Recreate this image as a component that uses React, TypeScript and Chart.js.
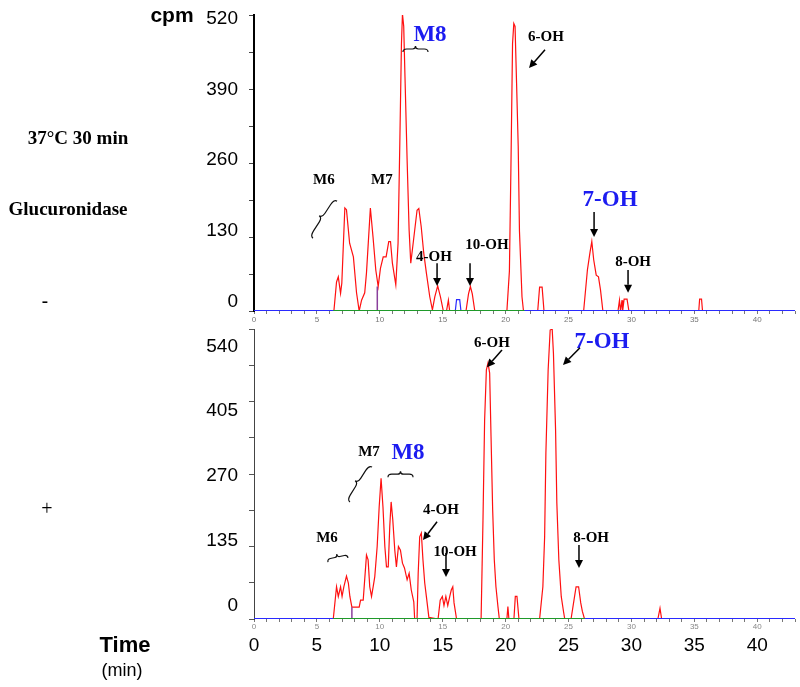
import React, { useEffect, useRef } from 'react';
import { Chart, registerables } from 'chart.js';
Chart.register(...registerables);

// ---------- data ----------
const X_MIN = 0;
const X_MAX = 43;
const xTickLabels = [0, 5, 10, 15, 20, 25, 30, 35, 40];
const topYTicks = [0, 130, 260, 390, 520];
const bottomYTicks = [0, 135, 270, 405, 540];

const topTime = [0, 6.35, 6.56, 6.7, 6.88, 6.98, 7.22, 7.35, 7.6, 7.9,
  8.15, 8.36, 8.55, 8.8, 8.94, 9.25, 9.46, 9.68, 9.87, 10.05,
  10.27, 10.5, 10.71, 10.85, 11.0, 11.27, 11.45, 11.59, 11.72, 11.8,
  11.9, 12.0, 12.17, 12.33, 12.46, 12.65, 12.96, 13.1, 13.29, 13.49,
  13.7, 13.97, 14.18, 14.37, 14.6, 14.82, 15.05, 15.3, 15.45, 15.55,
  16.85, 17.05, 17.2, 17.35, 17.55, 20.1, 20.3, 20.42, 20.55, 20.65,
  20.75, 20.87, 21.0, 21.1, 21.3, 21.42, 22.55, 22.7, 22.9, 23.05,
  26.2, 26.5, 26.7, 26.85, 27.0, 27.2, 27.38, 27.54, 27.73, 28.93,
  29.05, 29.13, 29.25, 29.3, 29.42, 29.65, 29.8, 35.35, 35.42, 35.57,
  35.65, 43];
const topCpm = [0, 0, 51, 60, 31, 49, 181, 178, 119, 95,
  32, 0, 19, 32, 67, 181, 130, 72, 43, 75,
  95, 95, 122, 122, 84, 46, 119, 295, 470, 522,
  500, 412, 265, 142, 84, 119, 177, 180, 148, 102,
  67, 25, 2, 25, 44, 25, 0, 0, 19, 0,
  0, 30, 43, 30, 0, 0, 70, 250, 470, 505,
  500, 400, 290, 140, 25, 0, 0, 42, 42, 0,
  0, 72, 102, 122, 90, 63, 60, 37, 0, 0,
  19, 0, 19, 0, 21, 21, 0, 0, 21, 21,
  0, 0];

const bottomTime = [0, 6.3, 6.56, 6.7, 6.88, 7.0, 7.14, 7.35, 7.5, 7.62,
  7.78, 8.36, 8.47, 8.68, 8.94, 9.07, 9.2, 9.34, 9.47, 9.6,
  9.79, 9.95, 10.1, 10.25, 10.4, 10.53, 10.67, 10.79, 10.9, 11.03,
  11.19, 11.32, 11.48, 11.64, 11.8, 11.96, 12.17, 12.33, 12.5, 12.7,
  12.77, 12.96, 13.05, 13.17, 13.3, 13.43, 13.57, 13.7, 13.9, 14.63,
  14.8, 14.97, 15.1, 15.25, 15.4, 15.56, 15.68, 15.8, 15.9, 16.1,
  18.05, 18.2, 18.33, 18.47, 18.6, 18.73, 18.84, 18.97, 19.1, 19.23,
  19.39, 19.5, 20.1, 20.18, 20.26, 20.66, 20.77, 20.9, 21.06, 22.7,
  22.96, 23.1, 23.2, 23.38, 23.54, 23.7, 23.8, 23.97, 24.07, 24.23,
  24.42, 24.6, 24.7, 25.2, 25.48, 25.6, 25.8, 25.97, 26.1, 26.27,
  32.1, 32.27, 32.4, 43];
const bottomCpm = [0, 0, 60, 42, 60, 42, 60, 80, 67, 42,
  22, 22, 35, 35, 119, 110, 60, 42, 60, 79,
  135, 209, 262, 209, 135, 97, 97, 172, 218, 185,
  128, 97, 135, 128, 104, 95, 73, 85, 54, 32,
  0, 0, 85, 153, 160, 110, 67, 42, 3, 0,
  35, 42, 25, 42, 25, 42, 54, 60, 30, 0,
  0, 184, 370, 464, 477, 458, 340, 203, 110, 60,
  23, 0, 0, 23, 0, 0, 42, 42, 0, 0,
  60, 153, 309, 464, 538, 540, 495, 352, 216, 110,
  42, 14, 0, 0, 42, 60, 60, 30, 14, 0,
  0, 20, 0, 0];

const topBlueTime = [16.0, 16.1, 16.35, 16.45];
const topBlueCpm = [0, 20, 20, 0];
const topGreenRange = [6.3, 21.5];
const bottomGreenRange = [6.3, 26.3];
const topMarkerTime = 9.8;
const topMarkerCpm = 43;
const bottomMarkerTime = 7.78;
const bottomMarkerCpm = 22;

// ---------- annotations (in data coordinates) ----------
type Ann =
  | { kind: 'text'; text: string; t: number; v: number; blue?: boolean }
  | { kind: 'arrow'; t1: number; v1: number; t2: number; v2: number }
  | { kind: 'brace'; t1: number; v1: number; t2: number; v2: number; w: number };

const topAnnotations: Ann[] = [
  { kind: 'text', text: 'M6', t: 5.56, v: 230 },
  { kind: 'brace', t1: 6.6, v1: 193, t2: 4.69, v2: 128, w: 7 },
  { kind: 'text', text: 'M7', t: 10.17, v: 230 },
  { kind: 'text', text: 'M8', t: 13.99, v: 485, blue: true },
  { kind: 'brace', t1: 11.84, v1: 455, t2: 13.83, v2: 455, w: -6 },
  { kind: 'text', text: '6-OH', t: 23.21, v: 481 },
  { kind: 'arrow', t1: 23.13, v1: 459, t2: 21.86, v2: 427 },
  { kind: 'text', text: '7-OH', t: 28.3, v: 195, blue: true },
  { kind: 'arrow', t1: 27.03, v1: 174, t2: 27.03, v2: 130 },
  { kind: 'text', text: '4-OH', t: 14.31, v: 95 },
  { kind: 'arrow', t1: 14.55, v1: 84, t2: 14.55, v2: 44 },
  { kind: 'text', text: '10-OH', t: 18.52, v: 116 },
  { kind: 'arrow', t1: 17.17, v1: 84, t2: 17.17, v2: 44 },
  { kind: 'text', text: '8-OH', t: 30.13, v: 86 },
  { kind: 'arrow', t1: 29.73, v1: 72, t2: 29.73, v2: 32 },
];

const bottomAnnotations: Ann[] = [
  { kind: 'text', text: 'M6', t: 5.8, v: 151 },
  { kind: 'brace', t1: 5.88, v1: 106, t2: 7.47, v2: 114, w: -6 },
  { kind: 'text', text: 'M7', t: 9.14, v: 311 },
  { kind: 'brace', t1: 9.38, v1: 283, t2: 7.63, v2: 218, w: 7 },
  { kind: 'text', text: 'M8', t: 12.24, v: 309, blue: true },
  { kind: 'brace', t1: 10.65, v1: 264, t2: 12.64, v2: 264, w: -6 },
  { kind: 'text', text: '4-OH', t: 14.86, v: 203 },
  { kind: 'arrow', t1: 14.55, v1: 181, t2: 13.43, v2: 147 },
  { kind: 'text', text: '10-OH', t: 15.98, v: 125 },
  { kind: 'arrow', t1: 15.26, v1: 123, t2: 15.26, v2: 78 },
  { kind: 'text', text: '6-OH', t: 18.92, v: 514 },
  { kind: 'arrow', t1: 19.71, v1: 501, t2: 18.52, v2: 469 },
  { kind: 'text', text: '7-OH', t: 27.66, v: 516, blue: true },
  { kind: 'arrow', t1: 25.91, v1: 505, t2: 24.56, v2: 473 },
  { kind: 'text', text: '8-OH', t: 26.79, v: 151 },
  { kind: 'arrow', t1: 25.83, v1: 138, t2: 25.83, v2: 95 },
];

const RED = '#ff1010';
const BLUE_LINE = '#2a2aff';
const GREEN_LINE = '#1f9a2a';
const PURPLE = '#8a3f9c';
const LABEL_BLUE = '#1c1cf0';
const SERIF = '"Liberation Serif", "Times New Roman", serif';
const SANS = '"Liberation Sans", Arial, sans-serif';

const zip = (xs: number[], ys: number[]) => xs.map((x, i) => ({ x, y: ys[i] }));

function annotationPlugin(list: Ann[]) {
  return {
    id: 'annot',
    afterDraw(chart: any) {
      const ctx = chart.ctx as CanvasRenderingContext2D;
      const xs = chart.scales.x;
      const ys = chart.scales.y;
      const px = (t: number) => xs.getPixelForValue(t);
      const py = (v: number) => ys.getPixelForValue(v);
      ctx.save();
      for (const a of list) {
        if (a.kind === 'text') {
          ctx.font = a.blue ? `bold 23px ${SERIF}` : `bold 15px ${SERIF}`;
          ctx.fillStyle = a.blue ? LABEL_BLUE : '#000';
          ctx.textAlign = 'center';
          ctx.textBaseline = 'middle';
          ctx.fillText(a.text, px(a.t), py(a.v));
        } else if (a.kind === 'arrow') {
          const x1 = px(a.t1), y1 = py(a.v1), x2 = px(a.t2), y2 = py(a.v2);
          const ang = Math.atan2(y2 - y1, x2 - x1);
          const hl = 8, hw = 4;
          const bx = x2 - Math.cos(ang) * hl, by = y2 - Math.sin(ang) * hl;
          ctx.strokeStyle = '#000';
          ctx.lineWidth = 1.5;
          ctx.beginPath();
          ctx.moveTo(x1, y1);
          ctx.lineTo(bx, by);
          ctx.stroke();
          ctx.fillStyle = '#000';
          ctx.beginPath();
          ctx.moveTo(x2, y2);
          ctx.lineTo(bx + Math.sin(ang) * hw, by - Math.cos(ang) * hw);
          ctx.lineTo(bx - Math.sin(ang) * hw, by + Math.cos(ang) * hw);
          ctx.closePath();
          ctx.fill();
        } else {
          const x1 = px(a.t1), y1 = py(a.v1), x2 = px(a.t2), y2 = py(a.v2);
          const dx = x2 - x1, dy = y2 - y1;
          const len = Math.hypot(dx, dy);
          const ux = dx / len, uy = dy / len;
          const nx = -uy, ny = ux;
          const w = a.w;
          const P = (s: number, n: number): [number, number] => [x1 + ux * s + nx * n, y1 + uy * s + ny * n];
          ctx.strokeStyle = '#111';
          ctx.lineWidth = 1.2;
          ctx.beginPath();
          ctx.moveTo(...P(0, 0));
          ctx.quadraticCurveTo(...P(0, w * 0.5), ...P(len * 0.15, w * 0.5));
          ctx.lineTo(...P(len * 0.38, w * 0.5));
          ctx.quadraticCurveTo(...P(len * 0.5, w * 0.5), ...P(len * 0.5, w));
          ctx.quadraticCurveTo(...P(len * 0.5, w * 0.5), ...P(len * 0.62, w * 0.5));
          ctx.lineTo(...P(len * 0.85, w * 0.5));
          ctx.quadraticCurveTo(...P(len, w * 0.5), ...P(len, 0));
          ctx.stroke();
        }
      }
      ctx.restore();
    },
  };
}

const xCallback = (v: any) => (xTickLabels.includes(Number(v)) ? String(v) : '');

function baseDatasets(time: number[], cpm: number[], green: number[], mT: number, mV: number) {
  return [
    { label: 'green', data: [{ x: green[0], y: 0 }, { x: green[1], y: 0 }], borderColor: GREEN_LINE, borderWidth: 2, order: 0, yAxisID: 'y', xAxisID: 'x' },
    { label: 'baseline', data: [{ x: X_MIN, y: 0 }, { x: X_MAX, y: 0 }], borderColor: BLUE_LINE, borderWidth: 2, order: 1, yAxisID: 'y', xAxisID: 'x' },
    { label: 'marker', data: [{ x: mT, y: 0 }, { x: mT, y: mV }], borderColor: PURPLE, borderWidth: 1.5, order: 2, yAxisID: 'y', xAxisID: 'x' },
    { label: 'cpm', data: zip(time, cpm), borderColor: RED, borderWidth: 1.2, order: 3, yAxisID: 'y', xAxisID: 'x' },
  ];
}

function makeTopConfig(): any {
  const datasets: any[] = baseDatasets(topTime, topCpm, topGreenRange, topMarkerTime, topMarkerCpm);
  datasets.push({ label: 'blue', data: zip(topBlueTime, topBlueCpm), borderColor: BLUE_LINE, borderWidth: 1.2, order: 2, yAxisID: 'y', xAxisID: 'x' });
  return {
    type: 'line',
    data: { datasets },
    options: {
      responsive: false,
      animation: false,
      events: [],
      layout: { padding: { left: 0, right: 5, top: 15, bottom: 687 - 311 - 14 } },
      plugins: { legend: { display: false }, tooltip: { enabled: false } },
      elements: { point: { radius: 0 }, line: { tension: 0 } },
      scales: {
        x: {
          type: 'linear', axis: 'x', position: 'bottom', min: X_MIN, max: X_MAX, weight: 0,
          afterFit: (s: any) => { s.height = 14; },
          border: { display: false },
          grid: { display: true, drawOnChartArea: false, drawTicks: true, tickLength: 3, color: '#777' },
          ticks: { stepSize: 1, autoSkip: false, maxRotation: 0, padding: 1, color: '#777', font: { size: 8, family: SANS }, callback: xCallback },
        },
        y: {
          type: 'linear', axis: 'y', position: 'left', min: 0, max: 520, weight: 0,
          afterFit: (s: any) => { s.width = 16; },
          border: { display: true, color: '#000', width: 2 },
          grid: { display: true, drawOnChartArea: false, drawTicks: true, tickLength: 5, color: '#444' },
          ticks: { display: false, stepSize: 65 },
        },
        yLab: {
          type: 'linear', axis: 'y', position: 'left', min: -16.5, max: 526.2, weight: 10,
          afterFit: (s: any) => { s.width = 238; },
          afterBuildTicks: (s: any) => { s.ticks = topYTicks.map((v) => ({ value: v })); },
          border: { display: false },
          grid: { display: false, drawTicks: false },
          ticks: { padding: 0, color: '#000', font: { size: 19, family: SANS } },
        },
      },
    },
    plugins: [annotationPlugin(topAnnotations)],
  };
}

function makeBottomConfig(): any {
  const datasets: any[] = baseDatasets(bottomTime, bottomCpm, bottomGreenRange, bottomMarkerTime, bottomMarkerCpm);
  return {
    type: 'line',
    data: { datasets },
    options: {
      responsive: false,
      animation: false,
      events: [],
      layout: { padding: { left: 0, right: 5, top: 329, bottom: 0 } },
      plugins: { legend: { display: false }, tooltip: { enabled: false } },
      elements: { point: { radius: 0 }, line: { tension: 0 } },
      scales: {
        x: {
          type: 'linear', axis: 'x', position: 'bottom', min: X_MIN, max: X_MAX, weight: 0,
          afterFit: (s: any) => { s.height = 14; },
          border: { display: false },
          grid: { display: true, drawOnChartArea: false, drawTicks: true, tickLength: 3, color: '#777' },
          ticks: { stepSize: 1, autoSkip: false, maxRotation: 0, padding: 0, color: '#888', font: { size: 8, family: SANS }, callback: xCallback },
        },
        xBig: {
          type: 'linear', axis: 'x', position: 'bottom', min: X_MIN, max: X_MAX, weight: 10,
          afterFit: (s: any) => { s.height = 54; },
          border: { display: false },
          grid: { display: false, drawTicks: false },
          ticks: { stepSize: 5, autoSkip: false, maxRotation: 0, padding: 1, color: '#000', font: { size: 19, family: SANS }, callback: xCallback },
        },
        y: {
          type: 'linear', axis: 'y', position: 'left', min: 0, max: 540, weight: 0,
          afterFit: (s: any) => { s.width = 16; },
          border: { display: true, color: '#444', width: 1 },
          grid: { display: true, drawOnChartArea: false, drawTicks: true, tickLength: 5, color: '#555' },
          ticks: { display: false, stepSize: 67.5 },
        },
        yLab: {
          type: 'linear', axis: 'y', position: 'left', min: -28.4, max: 576.6, weight: 10,
          afterFit: (s: any) => { s.width = 238; },
          afterBuildTicks: (s: any) => { s.ticks = bottomYTicks.map((v) => ({ value: v })); },
          border: { display: false },
          grid: { display: false, drawTicks: false },
          ticks: { padding: 0, color: '#000', font: { size: 19, family: SANS } },
        },
      },
    },
    plugins: [annotationPlugin(bottomAnnotations)],
  };
}

const labelStyle = (x: number, y: number, extra: React.CSSProperties): React.CSSProperties => ({
  position: 'absolute', left: x, top: y, transform: 'translate(-50%, -50%)', whiteSpace: 'nowrap', lineHeight: 1, color: '#000', ...extra,
});

export default function App() {
  const topRef = useRef<HTMLCanvasElement | null>(null);
  const bottomRef = useRef<HTMLCanvasElement | null>(null);

  useEffect(() => {
    const c1 = new Chart(topRef.current as HTMLCanvasElement, makeTopConfig());
    const c2 = new Chart(bottomRef.current as HTMLCanvasElement, makeBottomConfig());
    return () => { c1.destroy(); c2.destroy(); };
  }, []);

  const canvasStyle: React.CSSProperties = { position: 'absolute', left: 0, top: 0, width: 800, height: 687 };

  return (
    <div style={{ position: 'absolute', left: 0, top: 0, width: 800, height: 687, background: '#fff', overflow: 'hidden' }}>
      <canvas ref={topRef} width={800} height={687} style={canvasStyle} />
      <canvas ref={bottomRef} width={800} height={687} style={canvasStyle} />
      <div style={labelStyle(172, 14, { fontFamily: SANS, fontWeight: 'bold', fontSize: 21 })}>cpm</div>
      <div style={labelStyle(78, 137, { fontFamily: SERIF, fontWeight: 'bold', fontSize: 19 })}>37°C 30 min</div>
      <div style={labelStyle(68, 208, { fontFamily: SERIF, fontWeight: 'bold', fontSize: 19 })}>Glucuronidase</div>
      <div style={labelStyle(45, 300, { fontFamily: SERIF, fontWeight: 'bold', fontSize: 19 })}>-</div>
      <div style={labelStyle(47, 508, { fontFamily: SERIF, fontSize: 20 })}>+</div>
      <div style={labelStyle(125, 645, { fontFamily: SANS, fontWeight: 'bold', fontSize: 22 })}>Time</div>
      <div style={labelStyle(122, 670, { fontFamily: SANS, fontSize: 18 })}>(min)</div>
    </div>
  );
}
